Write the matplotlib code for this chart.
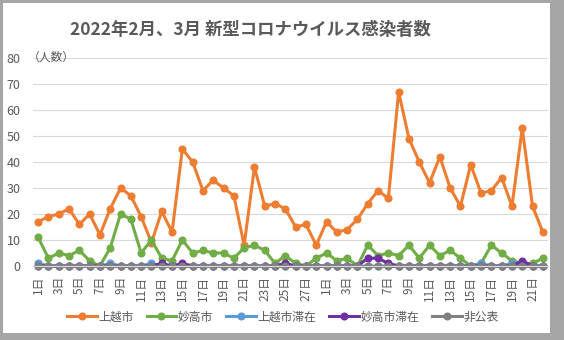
import matplotlib
matplotlib.use("Agg")
import matplotlib.pyplot as plt
from matplotlib.patches import Rectangle

plt.rcParams['font.family'] = ['Noto Sans CJK JP', 'DejaVu Sans']

# categories: Feb 1-28, Mar 1-22
days = [f"{d}日" for d in range(1, 29)] + [f"{d}日" for d in range(1, 23)]

joetsu = [17, 19, 20, 22, 16, 20, 12, 22, 30, 27, 19, 9, 21, 13, 45, 40, 29, 33, 30, 27,
          8, 38, 23, 24, 22, 15, 16, 8,
          17, 13, 14, 18, 24, 29, 26, 67, 49, 40, 32, 42, 30, 23, 39, 28, 29, 34, 23, 53,
          23, 13]
myoko = [11, 3, 5, 4, 6, 2, 0, 7, 20, 18, 5, 10, 3, 2, 10, 5, 6, 5, 5, 3,
         7, 8, 6, 1, 4, 1, 0, 3,
         5, 2, 3, 0, 8, 4, 5, 4, 8, 3, 8, 4, 6, 3, 0, 1, 8, 5, 2, 1,
         1, 3]
joetsu_stay = [1, 0, 0, 0, 0, 0, 0, 1, 0, 0, 0, 1, 0, 0, 0, 0, 0, 0, 0, 0,
               0, 0, 0, 0, 0, 0, 0, 0,
               0, 0, 0, 0, 0, 0, 0, 0, 0, 0, 0, 0, 0, 0, 0, 1, 0, 0, 1, 0,
               0, 0]
myoko_stay = [0, 0, 0, 0, 0, 0, 0, 0, 0, 0, 0, 0, 1, 0, 1, 0, 0, 0, 0, 0,
              0, 0, 0, 0, 1, 0, 0, 0,
              0, 0, 0, 0, 3, 3, 1, 0, 0, 0, 0, 0, 0, 0, 0, 0, 0, 0, 0, 2,
              0, 0]
undisclosed = [0] * 50

series = [
    ("上越市", joetsu, "#ED7D31"),
    ("妙高市", myoko, "#70AD47"),
    ("上越市滞在", joetsu_stay, "#5B9BD5"),
    ("妙高市滞在", myoko_stay, "#7030A0"),
    ("非公表", undisclosed, "#808080"),
]

W, H = 564, 340
fig = plt.figure(figsize=(W / 100, H / 100), dpi=100, facecolor="#a6a6a6")
fig.patches.append(Rectangle((3 / W, 7 / H), 547 / W, 330 / H, transform=fig.transFigure,
                             facecolor="white", edgecolor="none", zorder=-5))

ax = fig.add_axes([33 / W, 1 - 266 / H, (548 - 33) / W, (266 - 58) / H])
ax.set_facecolor("none")

x = list(range(len(days)))
for name, vals, col in series:
    ax.plot(x, vals, color=col, lw=2.2, marker="o", markersize=4.8,
            label=name, clip_on=False)

ax.set_xlim(-0.5, len(days) - 0.5)
ax.set_ylim(0, 80)
ax.set_yticks(range(0, 81, 10))
ax.set_xticks(x[::2])
ax.set_xticklabels(days[::2], rotation=90, fontsize=8.5, color="#595959")
ax.tick_params(axis="y", length=0, pad=9, labelsize=9, labelcolor="#595959")
ax.tick_params(axis="x", length=0, pad=7)
ax.grid(axis="y", color="#d9d9d9", lw=0.8)
ax.set_axisbelow(True)
for s in ["top", "right", "left"]:
    ax.spines[s].set_visible(False)
ax.spines["bottom"].set_color("#d9d9d9")

fig.text(250 / W, 1 - 30 / H, "2022年2月、3月 新型コロナウイルス感染者数",
         ha="center", va="center", fontsize=12.5, fontweight="bold", color="#595959")
fig.text(28 / W, 1 - 57 / H, "（人数）", ha="left", va="center", fontsize=8.5, color="#595959")

leg = fig.legend(loc="center", bbox_to_anchor=(283 / W, 1 - 317 / H), ncol=5,
                 frameon=False, fontsize=8.5, handlelength=2.5, handletextpad=0.15,
                 columnspacing=1.1)
for t in leg.get_texts():
    t.set_color("#595959")

fig.savefig("out.png", dpi=100, facecolor=fig.get_facecolor())
